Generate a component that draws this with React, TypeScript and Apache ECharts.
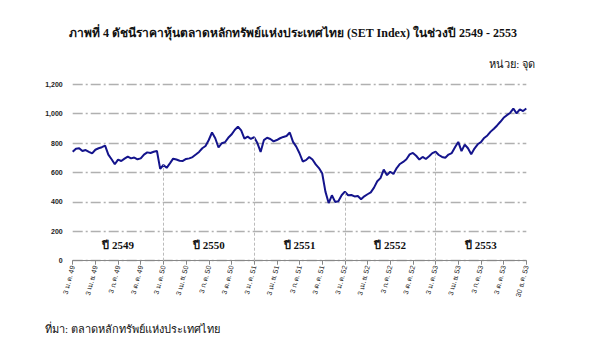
import React, { useEffect, useRef } from "react";
import * as echarts from "echarts";

const titleText = "ภาพที่ 4 ดัชนีราคาหุ้นตลาดหลักทรัพย์แห่งประเทศไทย (SET Index) ในช่วงปี 2549 - 2553";
const unitText = "หน่วย: จุด";
const sourceText = "ที่มา: ตลาดหลักทรัพย์แห่งประเทศไทย";

const tickLabels = [
  "3 ม.ค. 49", "3 เม.ย. 49", "3 ก.ค. 49", "3 ต.ค. 49",
  "3 ม.ค. 50", "3 เม.ย. 50", "3 ก.ค. 50", "3 ต.ค. 50",
  "3 ม.ค. 51", "3 เม.ย. 51", "3 ก.ค. 51", "3 ต.ค. 51",
  "3 ม.ค. 52", "3 เม.ย. 52", "3 ก.ค. 52", "3 ต.ค. 52",
  "3 ม.ค. 53", "3 เม.ย. 53", "3 ก.ค. 53", "3 ต.ค. 53",
  "30 ธ.ค. 53",
];

const yearLabels = ["ปี 2549", "ปี 2550", "ปี 2551", "ปี 2552", "ปี 2553"];

// SET index, 7 samples per quarter
const set2549 = [
  741, 762, 765, 746, 753, 741, 730,
  755, 765, 772, 783, 722, 690, 656,
  688, 678, 694, 708, 696, 702, 690,
  696, 722, 737, 733, 741, 746, 625,
];
const set2550 = [
  651, 632, 662, 694, 688, 680, 679,
  692, 696, 705, 722, 740, 765, 780,
  821, 872, 833, 770, 799, 806, 836,
  858, 889, 912, 886, 830, 844, 828,
];
const set2551 = [
  840, 800, 740, 820, 836, 828, 812,
  821, 833, 842, 848, 872, 808, 776,
  731, 675, 684, 706, 688, 655, 630,
  595, 470, 392, 445, 400, 405, 445,
];
const set2552 = [
  470, 445, 447, 437, 440, 418, 438,
  452, 465, 497, 540, 562, 620, 582,
  605, 590, 630, 658, 672, 690, 723,
  733, 714, 688, 706, 692, 710, 732,
];
const set2553 = [
  741, 719, 706, 700, 722, 732, 772,
  808, 745, 790, 765, 724, 763, 792,
  806, 835, 852, 878, 898, 920, 945,
  972, 990, 1005, 1035, 1002, 1030, 1018,
  1035,
];

const setValues = [...set2549, ...set2550, ...set2551, ...set2552, ...set2553];
const perQuarter = 7;

export default function App() {
  const ref = useRef<HTMLDivElement>(null);
  useEffect(() => {
    if (!ref.current) return;
    const chart = echarts.init(ref.current, null, { renderer: "svg" });
    const data = setValues.map((v, i) => [i / perQuarter, v]);
    const boundaries = [1, 2, 3, 4].map((y) => {
      const q = y * 4;
      return [
        { coord: [q, 0] },
        { coord: [q, setValues[q * perQuarter]] },
      ];
    });
    chart.setOption({
      animation: false,
      backgroundColor: "#ffffff",
      grid: { left: 72.7, right: 62.7, top: 84.3, bottom: 93.3 },
      title: [
        {
          text: titleText,
          left: 288,
          top: 22,
          textAlign: "center",
          textStyle: { fontFamily: "Liberation Serif, serif", fontWeight: "bold", fontSize: 12, color: "#111" },
        },
        {
          text: unitText,
          right: 49,
          top: 53,
          textStyle: { fontFamily: "Liberation Serif, serif", fontWeight: "normal", fontSize: 11, color: "#111" },
        },
        {
          text: sourceText,
          left: 40,
          top: 318,
          textStyle: { fontFamily: "Liberation Serif, serif", fontWeight: "normal", fontSize: 11, color: "#111" },
        },
      ],
      xAxis: {
        type: "value",
        min: 0,
        max: 20,
        interval: 1,
        axisLine: { show: true, lineStyle: { color: "#888", width: 1 } },
        axisTick: { show: true, length: 4, lineStyle: { color: "#888" } },
        splitLine: { show: false },
        axisLabel: {
          rotate: 75,
          fontSize: 7,
          fontFamily: "Arial, Liberation Sans, sans-serif",
          color: "#222",
          margin: 5,
          formatter: (v: number) => tickLabels[Math.round(v)] ?? "",
        },
      },
      yAxis: {
        type: "value",
        min: 0,
        max: 1200,
        interval: 200,
        axisLine: { show: false },
        axisTick: { show: false },
        splitLine: { show: true, lineStyle: { color: "#b0b0b0", width: 1.3, type: [10, 3, 2, 3] } },
        axisLabel: {
          fontSize: 7,
          fontWeight: "bold",
          fontFamily: "Arial, Liberation Sans, sans-serif",
          color: "#222",
          margin: 10,
          formatter: (v: number) => v.toLocaleString("en-US"),
        },
      },
      series: [
        {
          type: "line",
          data,
          showSymbol: false,
          symbol: "none",
          lineStyle: { color: "#14148c", width: 2 },
          markLine: {
            silent: true,
            symbol: "none",
            label: { show: false },
            lineStyle: { color: "#bbbbbb", width: 1, type: [3, 2] },
            data: boundaries,
          },
          markPoint: {
            silent: true,
            symbol: "rect",
            symbolSize: 0,
            label: {
              show: true,
              position: "inside",
              fontFamily: "Liberation Serif, serif",
              fontWeight: "bold",
              fontSize: 11,
              color: "#111",
              formatter: (p: any) => p.name,
            },
            data: yearLabels.map((t, i) => ({ name: t, coord: [i * 4 + 2, 105] })),
          },
        },
      ],
    });
    return () => chart.dispose();
  }, []);
  return (
    <div
      ref={ref}
      style={{ position: "fixed", left: 0, top: 0, width: 589, height: 354 }}
    />
  );
}
